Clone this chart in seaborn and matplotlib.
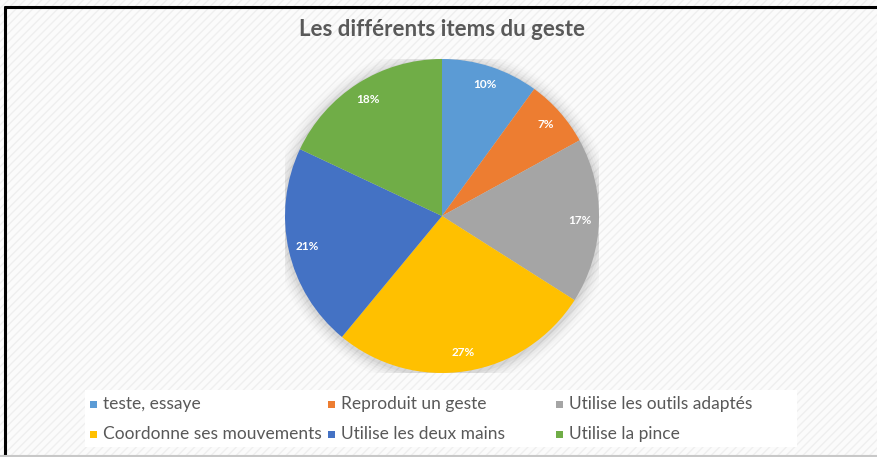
import matplotlib
matplotlib.use("Agg")
import matplotlib.pyplot as plt
import seaborn as sns
from matplotlib.patches import Rectangle, Circle
from matplotlib.lines import Line2D

categories = ["teste, essaye", "Reproduit un geste", "Utilise les outils adaptés",
              "Coordonne ses mouvements", "Utilise les deux mains", "Utilise la pince"]
values = [10, 7, 17, 27, 21, 18]
colors = ["#5B9BD5", "#ED7D31", "#A5A5A5", "#FFC000", "#4472C4", "#70AD47"]
title = "Les différents items du geste"

sns.set_theme(style="white")
plt.rcParams['font.family'] = ['Lato', 'DejaVu Sans']
palette = sns.color_palette(colors)

W, H = 877, 457
fig = plt.figure(figsize=(W / 100, H / 100), dpi=100)
fig.patch.set_facecolor("white")

# background with faint diagonal pattern
bg = Rectangle((0, 0), 1, 1, transform=fig.transFigure, facecolor="#fbfbfb",
               edgecolor="#efefef", hatch="////", linewidth=0, zorder=-10)
fig.patches.append(bg)

# frame lines
fig.add_artist(Line2D([4.5 / W, 1], [1 - 6.5 / H, 1 - 6.5 / H], color="black", lw=2.2,
                      transform=fig.transFigure))
fig.add_artist(Line2D([4.5 / W, 4.5 / W], [0, 1 - 6.5 / H], color="black", lw=2.2,
                      transform=fig.transFigure))
fig.add_artist(Line2D([0, 1], [1.5 / H, 1.5 / H], color="#c8c8c8", lw=1.5,
                      transform=fig.transFigure))

# pie axes
cx, cy, r = 442, 216, 157
ax = fig.add_axes([(cx - r) / W, (H - cy - r) / H, 2 * r / W, 2 * r / H])
ax.set_facecolor("none")
ax.axis("off")

# soft shadow
for i, a in enumerate([0.035, 0.03, 0.025, 0.02, 0.015, 0.01]):
    ax.add_patch(Circle((0.0, -0.01), 1.0 + 0.015 * (i + 1), color="black", alpha=a,
                        lw=0, zorder=0))

wedges, texts, autotexts = ax.pie(
    values, colors=palette, startangle=90, counterclock=False,
    autopct=lambda p: f"{p:.0f}%", pctdistance=0.88,
    wedgeprops=dict(linewidth=0), radius=1.0,
    textprops=dict(color="white", fontsize=8.5, fontweight="bold"))
for w in wedges:
    w.set_zorder(2)
for t in autotexts:
    t.set_zorder(3)
ax.set_xlim(-1, 1)
ax.set_ylim(-1, 1)
ax.set_aspect("equal")

# title
fig.text(cx / W, 1 - 29 / H, title, ha="center", va="center", fontsize=16,
         fontweight="bold", color="#595959")

# legend box (Excel-style grid: 3 equal columns, row-major)
fig.patches.append(Rectangle((85 / W, 10 / H), 712 / W, 57 / H, transform=fig.transFigure,
                             facecolor="white", edgecolor="none", zorder=1))
col_x = [90, 328, 556]
row_y = [404, 434]
sq = 7
for i, (lab, c) in enumerate(zip(categories, palette)):
    x = col_x[i % 3]
    y = row_y[i // 3]
    fig.patches.append(Rectangle((x / W, (H - y - sq / 2) / H), sq / W, sq / H,
                                 transform=fig.transFigure, facecolor=c,
                                 edgecolor="none", zorder=2))
    fig.text((x + 13) / W, 1 - y / H, lab, ha="left", va="center", fontsize=12.5,
             color="#595959", zorder=3)

fig.savefig("out.png", dpi=100, facecolor=fig.get_facecolor())
